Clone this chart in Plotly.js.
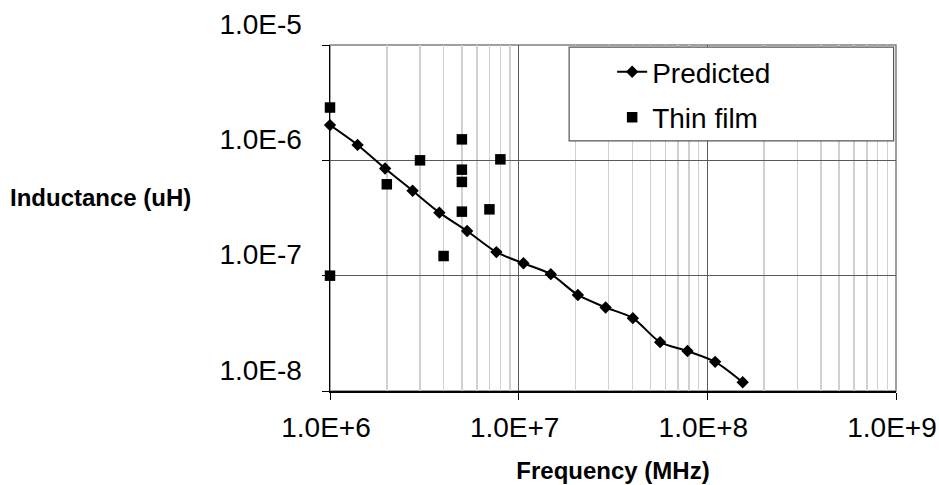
<!DOCTYPE html>
<html>
<head>
<meta charset="utf-8">
<script src="https://cdn.plot.ly/plotly-3.0.1.min.js"></script>
<style>html,body{margin:0;padding:0;background:#fff;}#chart{width:939px;height:485px;}</style>
</head>
<body>
<div id="chart"></div>
<script>
// Predicted series (frequency, inductance)
const predictedFreq = [1.0e6, 1.40e6, 1.96e6, 2.74e6, 3.80e6, 5.33e6, 7.62e6, 1.06e7, 1.48e7, 2.06e7, 2.89e7, 4.03e7, 5.62e7, 7.85e7, 1.10e8, 1.54e8];
const predictedInd  = [2.02e-6, 1.36e-6, 8.5e-7, 5.45e-7, 3.52e-7, 2.44e-7, 1.60e-7, 1.28e-7, 1.03e-7, 6.8e-8, 5.3e-8, 4.28e-8, 2.65e-8, 2.22e-8, 1.79e-8, 1.19e-8];
// Thin film measurements
const thinFreq = [1e6, 1e6, 2e6, 3e6, 4e6, 5e6, 5e6, 5e6, 5e6, 7e6, 8e6];
const thinInd  = [2.87e-6, 1.0e-7, 6.2e-7, 1.0e-6, 1.48e-7, 1.52e-6, 8.3e-7, 6.5e-7, 3.59e-7, 3.76e-7, 1.02e-6];
// Ticks
const xTickVals = [1e6, 1e7, 1e8, 1e9];
const xTickText = ['1.0E+6', '1.0E+7', '1.0E+8', '1.0E+9'];
const yTickVals = [1e-8, 1e-7, 1e-6, 1e-5];
const yTickText = ['1.0E-8', '1.0E-7', '1.0E-6', '1.0E-5'];

const FONT = 'Liberation Sans, Arial, sans-serif';

const traces = [
  {
    x: predictedFreq, y: predictedInd, name: 'Predicted', type: 'scatter', mode: 'lines+markers',
    line: {color: '#000', width: 2, shape: 'spline', smoothing: 0.8},
    marker: {symbol: 'diamond', size: 9.5, color: '#000'},
    legendgroup: 'a', cliponaxis: false
  },
  {
    x: thinFreq, y: thinInd, name: 'Thin film', type: 'scatter', mode: 'markers',
    marker: {symbol: 'square', size: 10.5, color: '#000'},
    legendgroup: 'b', cliponaxis: false
  }
];

const layout = {
  width: 939, height: 485,
  margin: {l: 330, r: 43.3, t: 44.7, b: 93.7, autoexpand: false},
  paper_bgcolor: '#fff', plot_bgcolor: '#fff',
  font: {family: FONT, size: 28, color: '#000'},
  showlegend: true,
  legend: {
    x: 0.4985, y: 0.994, xanchor: 'left', yanchor: 'top',
    bgcolor: 'rgba(0,0,0,0)', borderwidth: 0,
    font: {family: FONT, size: 28, color: '#000'},
    tracegroupgap: 6, traceorder: 'grouped'
  },
  xaxis: {
    type: 'log', range: [5.99999, 9], autorange: false,
    tickmode: 'array', tickvals: xTickVals, ticktext: xTickText,
    ticks: 'outside', ticklen: 7, tickcolor: '#000', tickwidth: 1,
    showline: true, linecolor: '#000', linewidth: 1.5,
    showgrid: true, gridcolor: '#5a5a5a', gridwidth: 1,
    minor: {showgrid: true, gridcolor: '#d0d0d0', gridwidth: 1.5, dtick: 'D1', ticks: ''},
    zeroline: false, ticklabelshift: -4, ticklabelstandoff: 4,
    tickfont: {family: FONT, size: 28, color: '#000'},
    title: {text: 'Frequency (MHz)', font: {family: FONT, size: 24, weight: 'bold', color: '#000'}, standoff: 20}
  },
  yaxis: {
    type: 'log', range: [-8.00001, -4.99999], autorange: false,
    tickmode: 'array', tickvals: yTickVals, ticktext: yTickText,
    ticks: 'outside', ticklen: 7, tickcolor: '#000', tickwidth: 1,
    showline: true, linecolor: '#000', linewidth: 1.5,
    showgrid: true, gridcolor: '#5a5a5a', gridwidth: 1,
    zeroline: false, ticklabelshift: -21, ticklabelstandoff: 14,
    tickfont: {family: FONT, size: 28, color: '#000'}
  },
  shapes: [
    {type: 'rect', xref: 'paper', yref: 'paper', x0: 0, x1: 1, y0: 0, y1: 1,
     line: {color: '#808080', width: 1.5}, fillcolor: 'rgba(0,0,0,0)', layer: 'below'},
    {type: 'rect', xref: 'paper', yref: 'paper', x0: 0.4225, x1: 0.9958, y0: 0.723, y1: 0.994,
     line: {color: '#555', width: 1.2}, fillcolor: '#fff', layer: 'above'}
  ],
  annotations: [
    {text: 'Inductance (uH)', xref: 'paper', yref: 'paper', x: -0.569, y: 0.5606,
     xanchor: 'left', yanchor: 'middle', showarrow: false,
     font: {family: FONT, size: 24, weight: 'bold', color: '#000'}}
  ]
};

Plotly.newPlot('chart', traces, layout, {displayModeBar: false, staticPlot: true});
</script>
</body>
</html>
